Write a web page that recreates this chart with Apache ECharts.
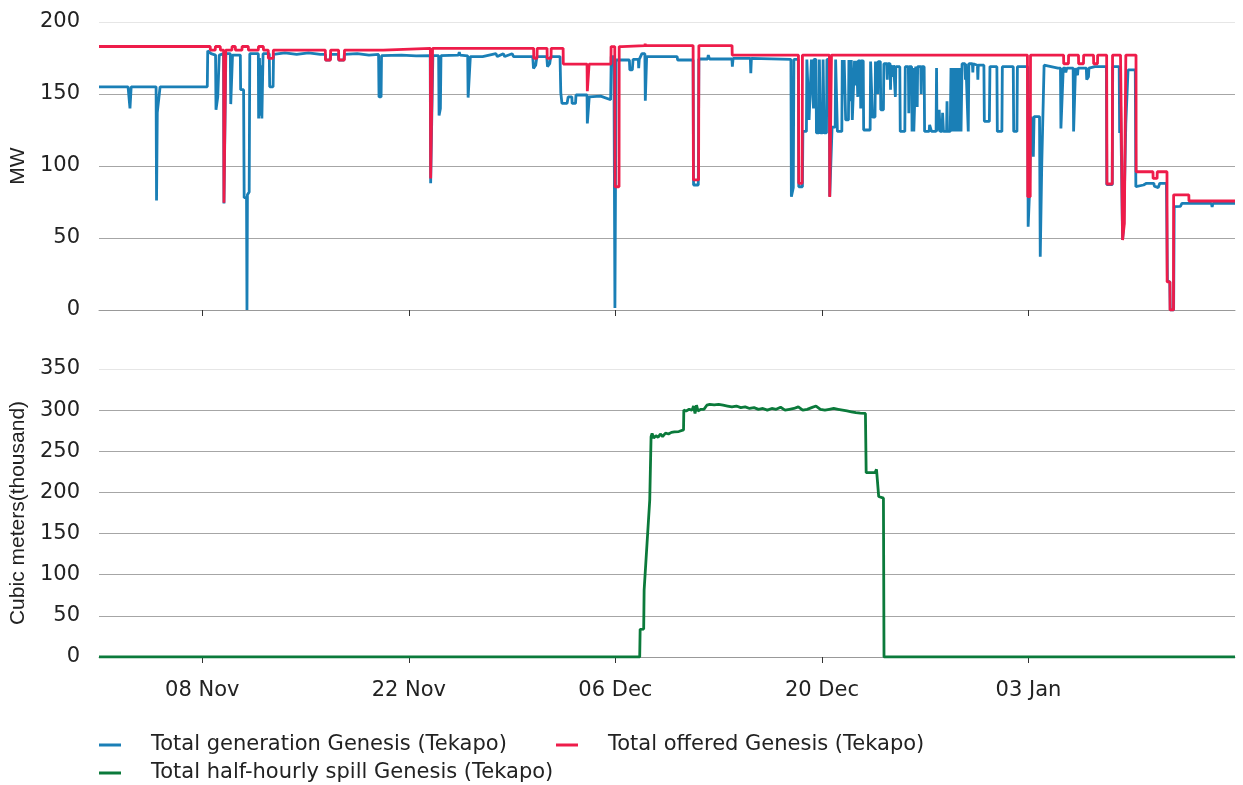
<!DOCTYPE html>
<html>
<head>
<meta charset="utf-8">
<script src="https://cdn.jsdelivr.net/npm/echarts@6/dist/echarts.min.js"></script>
<style>
  html, body { margin: 0; padding: 0; background: #fff; }
  #chart { width: 1243px; height: 785px; }
</style>
</head>
<body>
<div id="chart"></div>
<script>
// Time is expressed in days since 01 Nov, 00:00.
const dayMin = 0;
const dayMax = 77;
const tickDays = [7, 21, 35, 49, 63];
const tickLabels = ['08 Nov', '22 Nov', '06 Dec', '20 Dec', '03 Jan'];

const seriesNames = [
  'Total generation Genesis (Tekapo)',
  'Total offered Genesis (Tekapo)',
  'Total half-hourly spill Genesis (Tekapo)'
];

// Total generation, MW: [day, value]
const generation = [
  [0,155],[1.97,155],[2.1,140],[2.18,155],
  [3.87,155],[3.9,76],[3.95,137],[4.08,137],[4.14,155],
  [7.34,155],[7.37,180],[7.6,178],[7.9,177],[7.93,139],[8.05,148],[8.15,177],
  [8.44,178],[8.47,74],[8.57,74],[8.6,178],
  [8.9,178],[8.93,143],[9.02,143],[9.05,177],
  [9.58,177],[9.6,153],[9.8,153],[9.84,78],[10.0,78],[10.03,0],[10.06,80],[10.18,82],[10.22,178],
  [10.8,178],[10.82,133],[10.88,175],[10.92,135],[11.0,170],[11.04,133],[11.12,178],
  [11.54,178],[11.57,155],[11.8,155],[11.83,177.5],
  [12.6,178.5],[13.4,177.5],[14.2,178.5],[15.0,177.5],
  [15.34,177.5],[15.37,173.5],[15.66,173.5],[15.7,177.5],
  [16.22,177.5],[16.25,173.5],[16.6,173.5],[16.63,177.5],
  [17.5,178],[18.3,177],[18.95,177.5],[18.98,148],[19.12,148],[19.15,176.6],
  [20.5,177],[21.5,176.5],[22.45,176.6],[22.48,88],[22.6,88],[22.63,176.6],
  [23.02,176.6],[23.05,135],[23.14,140],[23.18,176.6],
  [24.36,177],[24.42,179],[24.48,177],
  [24.99,176.5],[25.02,147.5],[25.14,147.5],[25.17,176],
  [26.0,176],[26.9,178],[27.0,176],[27.4,178],[27.5,176],[28.0,178],[28.1,176],[29.4,176],
  [29.45,167.8],[29.6,170],[29.68,176],
  [30.35,176],[30.4,169],[30.55,171],[30.62,176],
  [31.25,176],[31.3,151],[31.38,143.5],[31.73,143.5],[31.8,148],[32.05,148],[32.07,143.5],[32.3,143.5],[32.33,149.3],
  [33.08,149.3],[33.1,129.6],[33.2,129.6],[33.23,148],[34.0,148.5],[34.68,146],
  [34.72,176],[34.9,176],[34.97,1.4],[35.05,173.6],
  [35.95,173.6],[35.98,166.7],[36.15,166.7],[36.2,174],[36.56,174],[36.58,168],[36.62,174],
  [36.8,178],[37.0,178],[37.03,145.3],[37.12,176],
  [39.19,176],[39.22,173.6],[40.27,173.6],[40.3,86.8],[40.62,86.8],[40.66,174.3],
  [41.25,174.3],[41.3,177],[41.38,174.3],
  [42.9,174.3],[42.93,169],[42.98,174.8],
  [44.15,174.8],[44.18,164.4],[44.22,174.8],
  [46.9,174],[46.93,78.7],[47.06,85],[47.1,174],
  [47.4,174],[47.43,85.6],[47.68,85.6],[47.71,124],
  [47.95,124],[47.98,174],[48.1,174],[48.13,132],[48.26,132],[48.29,174],[48.4,174],[48.43,140],[48.46,174],
  [48.6,174],[48.63,123],[48.8,123],[48.83,174],[48.88,174],[48.9,123],[49.05,123],[49.08,174],[49.12,174],[49.15,123],[49.31,123],[49.34,174],
  [49.5,174],[49.53,79],[49.66,79],[49.69,127],[49.9,127],[49.93,174],[50.02,174],[50.05,124],[50.35,124],[50.38,173.6],
  [50.45,173.6],[50.48,150],[50.51,173.6],
  [50.58,173.6],[50.61,132],[50.8,132],[50.83,173.6],[50.93,173.6],[50.96,145],[50.99,173.6],[51.03,173.6],[51.06,132],[51.18,132],[51.21,173],
  [51.3,173],[51.33,156],[51.36,173],[51.4,173],[51.43,148],[51.46,173],[51.6,173],[51.63,140],[51.66,173],[51.8,173],[51.83,125],[52.27,125],[52.3,172.5],[52.4,172.5],[52.43,134],[52.6,134],[52.63,172.5],
  [52.75,172.5],[52.78,150],[52.81,172.5],
  [52.96,172.5],[52.99,139],[53.17,139],[53.2,171],[53.4,171],[53.43,160],[53.46,171],[53.62,171],[53.65,153],[53.68,170],[53.8,170],[53.83,162],[53.86,170],[53.95,170],[53.98,148],[54.01,169],
  [54.28,169],[54.31,124],[54.62,124],[54.65,169],[54.86,169],[54.89,136.6],[54.92,169],[55.08,169],
  [55.11,124],[55.18,124],[55.2,168],[55.23,124],[55.33,124],[55.36,169],[55.43,169],[55.46,141],[55.49,169],[55.7,169],[55.73,150],[55.76,169],[55.93,169],
  [55.96,124],[56.27,124],[56.3,128.5],[56.4,128.5],[56.43,124],[56.74,124],[56.77,168],[56.8,124],
  [56.92,124],[56.95,139],[57.01,124],[57.15,124],[57.18,137],[57.24,124],[57.45,124],[57.48,145],[57.51,124],[57.7,124],
  [57.75,168],[57.78,124],[57.88,124],[57.91,168],[57.94,124],[57.97,168],[58.0,124],[58.04,168],[58.07,124],[58.15,124],
  [58.18,168],[58.21,124],[58.26,124],[58.29,168],[58.32,124],[58.37,124],[58.4,168],[58.43,124],[58.47,124],
  [58.5,171],[58.7,171],[58.73,160],[58.76,171],[58.89,171],[58.92,124],[58.96,171],[59.2,171],[59.23,165],[59.26,171],[59.54,170],[59.57,160],[59.6,170],[59.98,170],[60.01,131],[60.35,131],[60.39,169],
  [60.86,169],[60.89,124],[61.2,124],[61.23,169],[61.97,169],[62.0,124],[62.22,124],[62.25,169],
  [62.95,169],[62.98,57.9],[63.06,78.7],[63.18,134.3],[63.3,134.3],[63.33,106.5],[63.38,134.3],[63.75,134.3],[63.8,37],[63.9,100],[64.06,170],
  [65.0,168],[65.17,168],[65.2,126],[65.33,126],[65.36,168],[65.5,168],[65.53,165],[65.6,168],[66.03,168],[66.06,124],[66.16,124],[66.19,168],
  [66.3,168],[66.33,163],[66.36,168],[66.92,168],[66.95,160],[67.07,162],[67.1,168],[67.5,169],[68.28,169],
  [68.31,87],[68.68,87],[68.71,169],[69.15,169],[69.18,123],[69.21,169],[69.3,169],[69.38,48.6],[69.46,60],[69.6,129.6],[69.72,129.6],[69.75,166.7],[70.24,166.7],
  [70.28,85.6],[70.8,86.8],[71.0,88],[71.5,88],[71.53,86],[71.8,85],[71.9,88],[72.35,88],
  [72.42,19.7],[72.58,19.7],[72.61,0],[72.84,0],[72.88,71.8],[73.3,72],[73.4,74],[75.4,74],[75.45,71.5],[75.5,74],[77,74]
];

// Total offered, MW: [day, value]
const offered = [
  [0,183],[7.54,183],[7.55,180.5],[7.88,180.5],[7.89,183],[8.22,183],[8.23,180.5],[8.45,180.5],[8.47,74.5],[8.57,74.5],[8.59,180.5],
  [9.01,180.5],[9.02,183],[9.24,183],[9.25,180.5],[9.69,180.5],[9.7,183],[10.12,183],[10.13,180.5],[10.8,180.5],[10.81,183],
  [11.14,183],[11.15,180.5],[11.47,180.5],[11.48,174.8],[11.81,174.8],[11.82,180.5],
  [15.34,180.5],[15.35,173.6],[15.69,173.6],[15.7,180.5],[16.24,180.5],[16.25,173.6],[16.63,173.6],[16.64,180.5],
  [19.27,180.5],[19.28,181.7],[22.46,181.7],[22.48,91.4],[22.6,91.4],[22.61,181.7],
  [29.46,181.7],[29.47,174.8],[29.69,174.8],[29.7,181.7],[30.37,181.7],[30.38,174.8],[30.64,174.8],[30.65,181.7],
  [31.46,181.7],[31.47,170.8],[33.08,170.8],[33.1,152],[33.2,152],[33.22,170.8],[34.7,170.8],[34.71,182.9],[34.96,182.9],
  [34.98,85.6],[35.25,85.6],[35.26,182.9],[35.45,182.9],[35.46,183.6],[37.0,183.6],[37.02,185],[37.04,183.6],
  [40.27,183.6],[40.29,90.3],[40.64,90.3],[40.66,183.6],[42.91,183.6],[42.92,177],
  [47.41,177],[47.43,88],[47.66,88],[47.68,177],[49.51,177],[49.53,78.5],[49.63,78.5],[49.65,177],
  [62.93,177],[62.95,78.7],[63.12,78.7],[63.14,177],
  [65.38,177],[65.39,171],[65.71,171],[65.72,177],[66.39,177],[66.4,171],[66.73,171],[66.74,177],[67.41,177],[67.42,171],[67.68,171],[67.69,177],
  [68.3,177],[68.32,87.5],[68.68,87.5],[68.7,177],[69.24,177],[69.38,48.6],[69.5,60],[69.6,177],[70.29,177],[70.3,96],
  [71.44,96],[71.45,91.4],[71.72,91.4],[71.73,96],[72.39,96],[72.4,19.5],[72.59,19.5],[72.6,0],[72.83,0],[72.84,80],[73.87,80],[73.88,75.7],[77,75.7]
];

// Total half-hourly spill, thousand cubic metres: [day, value]
const spill = [
  [0,0],[36.65,0],[36.68,33.6],[36.92,34],[36.95,81.4],[37.0,81.4],[37.33,190.8],[37.42,267.7],[37.49,271.8],
  [37.6,266],[37.75,269],[37.9,267],[38.05,271],[38.2,268],[38.4,272],[38.6,271],[38.8,273],[39.0,273.5],[39.3,274],[39.62,276],
  [39.64,300],[39.8,299],[40.0,301],[40.2,300],[40.3,305],[40.4,296],[40.5,306],[40.6,299],[40.8,301],[41.0,301],[41.2,306],
  [41.4,307],[41.7,306.5],[42.0,307],[42.3,306],[42.6,305],[42.9,304],[43.2,305],[43.5,303],[43.8,304],[44.1,302],[44.4,303],
  [44.7,301],[45.0,302],[45.3,300],[45.6,302],[45.9,301],[46.2,303.5],[46.5,300],[46.8,301],[47.1,302],[47.4,304],[47.7,300],
  [48.0,301],[48.3,303],[48.6,305],[48.9,301],[49.2,300],[49.5,301],[49.8,302],[50.1,301],[50.4,300],[50.7,299],[51.0,298],
  [51.3,297],[51.6,296.5],[51.95,296],[52.0,224],[52.6,224],[52.7,228],[52.78,229],[52.85,195],[53.17,193],[53.21,0],[77,0]
];

const colors = ['#1a7fb6', '#ee1c4a', '#0b7a3b'];
const textColor = '#222';
const labelFont = 'DejaVu Sans';
const nameFont = 'Liberation Sans';

const chart = echarts.init(document.getElementById('chart'), null, { renderer: 'canvas' });

function xAxisFor(gridIndex, showLabels) {
  return {
    type: 'value',
    gridIndex: gridIndex,
    min: dayMin,
    max: dayMax,
    axisLine: { show: true, lineStyle: { color: '#999', width: 1 } },
    axisTick: { show: true, customValues: tickDays, length: 6, lineStyle: { color: '#333', width: 1 } },
    axisLabel: {
      show: showLabels,
      customValues: tickDays,
      margin: 23,
      fontFamily: labelFont,
      fontSize: 21,
      color: textColor,
      formatter: v => tickLabels[tickDays.indexOf(Math.round(v))] || ''
    },
    splitLine: { show: false }
  };
}

function yAxisFor(gridIndex, max, name, lineColors) {
  return {
    type: 'value',
    gridIndex: gridIndex,
    min: 0,
    max: max,
    interval: 50,
    name: name,
    nameLocation: 'middle',
    nameRotate: 90,
    nameGap: 70,
    nameTextStyle: { fontFamily: nameFont, fontSize: 21, color: textColor },
    axisLine: { show: false },
    axisTick: { show: false },
    axisLabel: { margin: 19, fontFamily: labelFont, fontSize: 21, color: textColor },
    splitLine: { show: true, lineStyle: { color: lineColors, width: 1 } }
  };
}

function legendFor(name, left, top) {
  return {
    data: [name],
    left: left,
    top: top,
    padding: 0,
    icon: 'rect',
    itemWidth: 22,
    itemHeight: 3,
    textStyle: { fontFamily: labelFont, fontSize: 21, color: textColor, padding: [0, 0, 0, 25], lineHeight: 24 }
  };
}

const gridLineTop = ['#a6a6a6', '#a6a6a6', '#a6a6a6', '#a6a6a6', '#e6e6e6'];
const gridLineBottom = ['#a6a6a6', '#a6a6a6', '#a6a6a6', '#a6a6a6', '#a6a6a6', '#a6a6a6', '#a6a6a6', '#e6e6e6'];

const lineSeries = (name, data, color, xi, yi) => ({
  name: name,
  type: 'line',
  xAxisIndex: xi,
  yAxisIndex: yi,
  data: data,
  showSymbol: false,
  symbol: 'none',
  lineStyle: { color: color, width: 2.8 },
  itemStyle: { color: color },
  emphasis: { disabled: true },
  animation: false
});

chart.setOption({
  animation: false,
  backgroundColor: '#fff',
  grid: [
    { left: 99, width: 1136, top: 22, height: 288 },
    { left: 99, width: 1136, top: 369, height: 288 }
  ],
  xAxis: [xAxisFor(0, false), xAxisFor(1, true)],
  yAxis: [
    yAxisFor(0, 200, 'MW', gridLineTop),
    yAxisFor(1, 350, 'Cubic meters(thousand)', gridLineBottom)
  ],
  legend: [
    legendFor(seriesNames[0], 99, 733),
    legendFor(seriesNames[1], 556, 733),
    legendFor(seriesNames[2], 99, 761)
  ],
  series: [
    lineSeries(seriesNames[0], generation, colors[0], 0, 0),
    lineSeries(seriesNames[1], offered, colors[1], 0, 0),
    lineSeries(seriesNames[2], spill, colors[2], 1, 1)
  ]
});
</script>
</body>
</html>
